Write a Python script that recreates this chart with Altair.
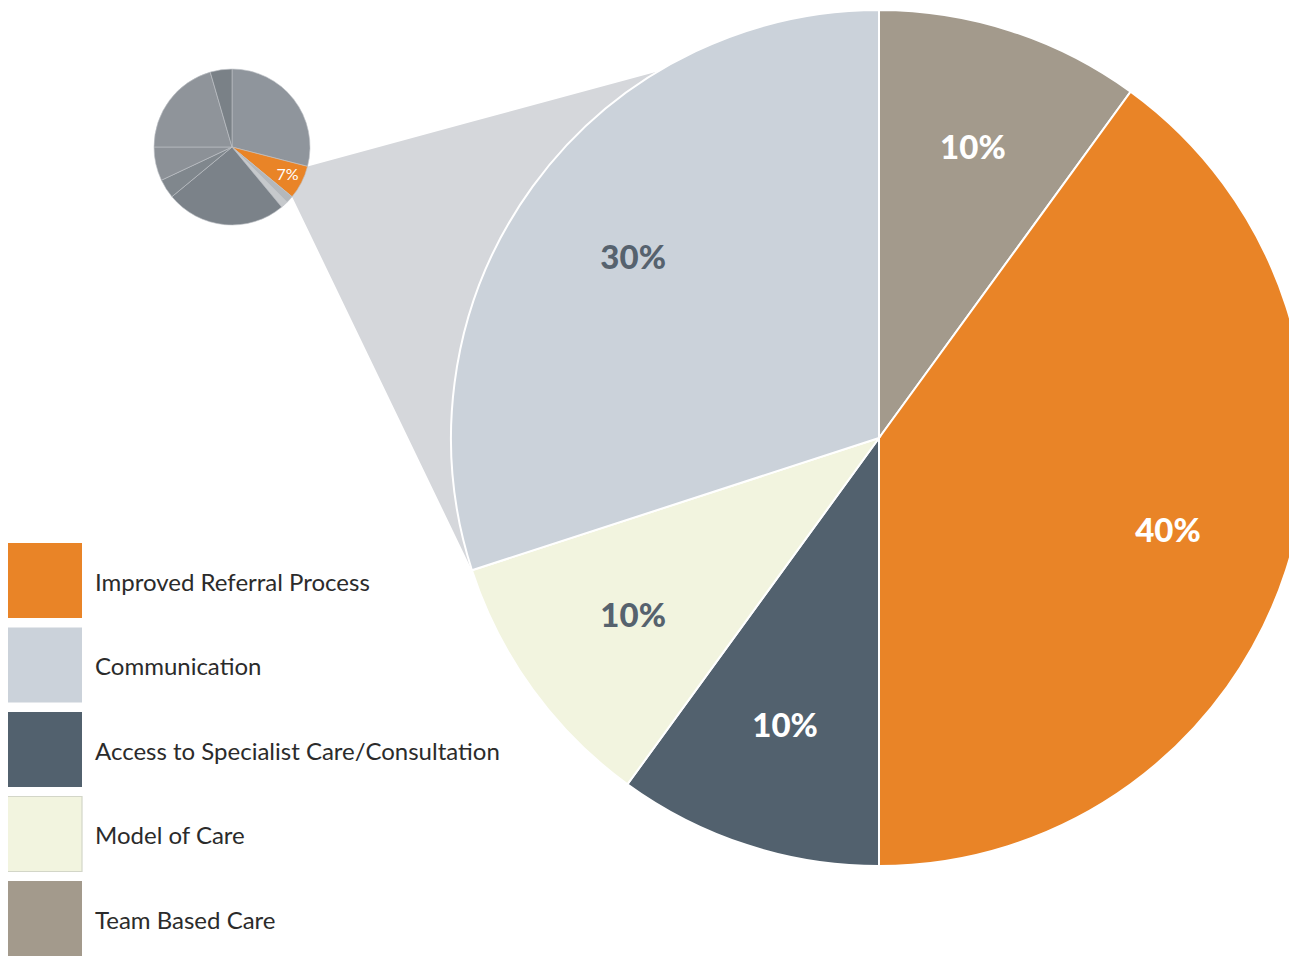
import math
import altair as alt
import pandas as pd

# ---- data ----
categories = ["Team Based Care", "Improved Referral Process",
              "Access to Specialist Care/Consultation", "Model of Care", "Communication"]
values = [10, 40, 10, 10, 30]
colors = ["#a39a8c", "#e98427", "#52616e", "#f2f4df", "#cbd2da"]
label_colors = ["#ffffff", "#ffffff", "#ffffff", "#56626e", "#56626e"]

legend_order = ["Improved Referral Process", "Communication",
                "Access to Specialist Care/Consultation", "Model of Care", "Team Based Care"]

small_values = [29, 7, 1.5, 1.5, 25, 4, 7, 20.5, 4.5]
small_colors = ["#8f959c", "#e98427", "#b4b8bc", "#c6c9cc", "#7b8289",
                "#80878d", "#8c9197", "#8f949a", "#7a8187"]
small_highlight = 1  # the 7% slice

# ---- layout ----
W, H = 1281, 948
BIG_C, BIG_R = (879.0, 438.0), 428.0
SMALL_C, SMALL_R = (232.0, 147.0), 78.0
CONNECT_TOP_ANGLE = 329.0
LEGEND_X, LEGEND_Y0, SW, STEP = 7, 543, 75, 84.5


def pt(c, r, deg):
    a = math.radians(deg)
    return (c[0] + r * math.sin(a), c[1] - r * math.cos(a))


def bounds(vals):
    tot = sum(vals)
    out, acc = [], 0.0
    for v in vals:
        out.append((acc / tot * 360, (acc + v) / tot * 360))
        acc += v
    return out


big_b = bounds(values)
small_b = bounds(small_values)

# connector polygon (x-monotone)
ps1 = pt(SMALL_C, SMALL_R, small_b[small_highlight][0])
ps2 = pt(SMALL_C, SMALL_R, small_b[small_highlight][1])
pb2 = pt(BIG_C, BIG_R, big_b[categories.index("Communication")][0])
pb1 = pt(BIG_C, BIG_R, CONNECT_TOP_ANGLE)


def interp(p, q, x):
    t = (x - p[0]) / (q[0] - p[0])
    return p[1] + t * (q[1] - p[1])


def upper(x):
    return interp(ps2, ps1, x) if x <= ps1[0] else interp(ps1, pb1, x)


def lower(x):
    return interp(ps2, pb2, x) if x <= pb2[0] else interp(pb2, pb1, x)


xs_pts = sorted([ps2[0], ps1[0], pb2[0], pb1[0]])
conn = pd.DataFrame({"x": xs_pts,
                     "yt": [upper(x) for x in xs_pts],
                     "yb": [lower(x) for x in xs_pts]})

big = pd.DataFrame({"category": categories, "value": values,
                    "idx": list(range(len(values))),
                    "cx": BIG_C[0], "cy": BIG_C[1]})
small = pd.DataFrame({"seg": [f"s{i}" for i in range(len(small_values))],
                      "value": small_values, "idx": list(range(len(small_values))),
                      "cx": SMALL_C[0], "cy": SMALL_C[1]})

lab_rows = []
for i, (a0, a1) in enumerate(big_b):
    x, y = pt(BIG_C, BIG_R * 0.71, (a0 + a1) / 2)
    lab_rows.append({"x": x, "y": y, "t": f"{values[i]}%", "c": label_colors[i]})
labels = pd.DataFrame(lab_rows)

a0, a1 = small_b[small_highlight]
sx, sy = pt(SMALL_C, SMALL_R * 0.8, (a0 + a1) / 2)
slab = pd.DataFrame({"x": [sx], "y": [sy], "t": [f"{small_values[small_highlight]}%"]})

leg = pd.DataFrame({"category": legend_order,
                    "x": LEGEND_X, "x2": LEGEND_X + SW,
                    "y": [LEGEND_Y0 + STEP * i for i in range(len(legend_order))],
                    "y2": [LEGEND_Y0 + STEP * i + SW for i in range(len(legend_order))],
                    "ty": [LEGEND_Y0 + STEP * i + SW / 2 + 3 for i in range(len(legend_order))],
                    "tx": LEGEND_X + SW + 13})

# ---- scales ----
xs = alt.Scale(domain=[8, 8 + W], nice=False, zero=False)
ys = alt.Scale(domain=[8, 8 + H], nice=False, zero=False, reverse=True)
th = alt.Scale(domain=[0, 100])
big_color = alt.Scale(domain=categories, range=colors)
small_color = alt.Scale(domain=list(small["seg"]), range=small_colors)

X = lambda f: alt.X(f, scale=xs, axis=None)
Y = lambda f: alt.Y(f, scale=ys, axis=None)

connector = alt.Chart(conn).mark_area(color="#d5d7db", orient="vertical").encode(
    x=X("x:Q"), y=Y("yt:Q"), y2="yb:Q")

small_pie = alt.Chart(small).mark_arc(outerRadius=SMALL_R, stroke="#bfc3c7", strokeWidth=0.6).encode(
    x=X("cx:Q"), y=Y("cy:Q"),
    theta=alt.Theta("value:Q", stack=True, scale=th),
    color=alt.Color("seg:N", scale=small_color, legend=None),
    order=alt.Order("idx:Q"))

big_pie = alt.Chart(big).mark_arc(outerRadius=BIG_R, stroke="white", strokeWidth=2).encode(
    x=X("cx:Q"), y=Y("cy:Q"),
    theta=alt.Theta("value:Q", stack=True, scale=th),
    color=alt.Color("category:N", scale=big_color, legend=None),
    order=alt.Order("idx:Q"))

big_labels = alt.Chart(labels).mark_text(font="Lato", fontSize=33, fontWeight=900,
                                         align="center", baseline="middle").encode(
    x=X("x:Q"), y=Y("y:Q"), text="t:N", color=alt.Color("c:N", scale=None))

small_label = alt.Chart(slab).mark_text(font="Lato", fontSize=16, color="white",
                                        align="center", baseline="middle").encode(
    x=X("x:Q"), y=Y("y:Q"), text="t:N")

leg_rect = alt.Chart(leg).mark_rect(stroke="#d3d6c8").encode(
    x=X("x:Q"), x2="x2:Q", y=Y("y:Q"), y2="y2:Q",
    color=alt.Color("category:N", scale=big_color, legend=None),
    strokeWidth=alt.condition("datum.category == 'Model of Care'", alt.value(1.2), alt.value(0)))

leg_text = alt.Chart(leg).mark_text(font="Lato", fontSize=24, color="#2b2b2b",
                                    align="left", baseline="middle").encode(
    x=X("tx:Q"), y=Y("ty:Q"), text="category:N")

chart = alt.layer(connector, small_pie, big_pie, big_labels, small_label, leg_rect, leg_text).resolve_scale(
    color="independent"
).properties(
    width=W, height=H, padding=0, autosize=alt.AutoSizeParams(type="none")
).configure(background="white").configure_view(stroke=None)

chart.save("out.html", embed_options={"renderer": "svg", "actions": False})
